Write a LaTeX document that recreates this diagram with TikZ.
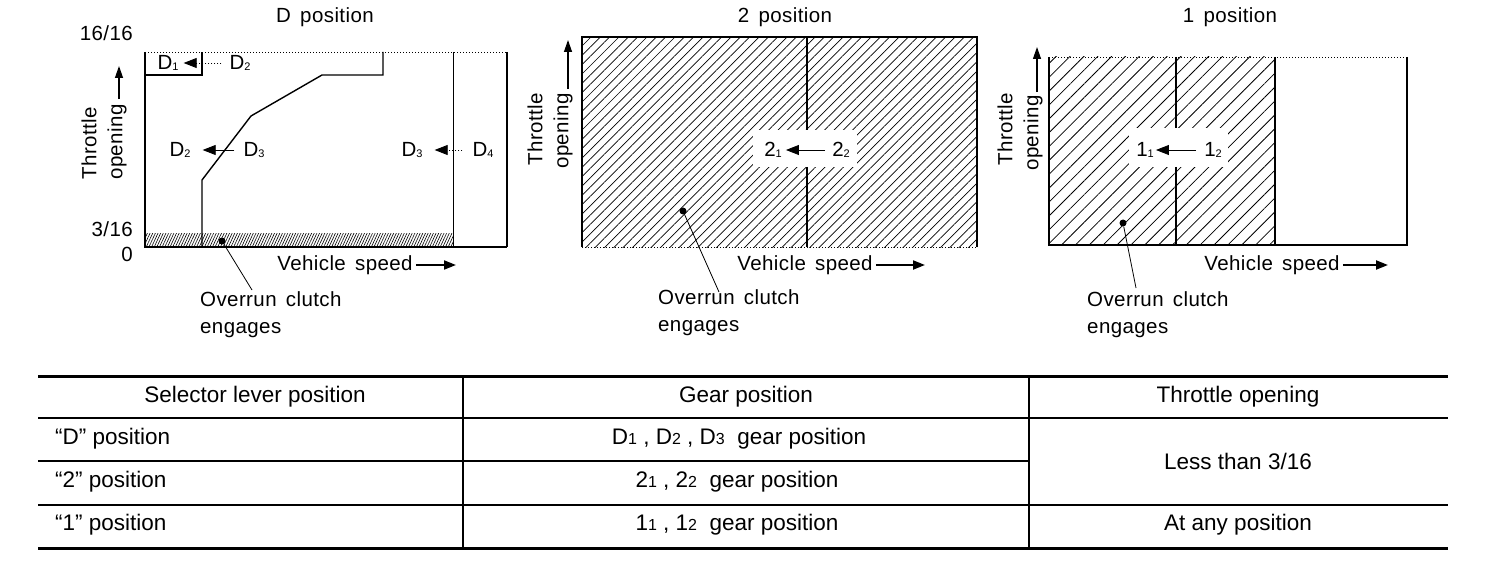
\documentclass[tikz,border=0pt]{standalone}
\usepackage{fontspec}
\setmainfont{Liberation Sans}
\newfontfamily\chartfont{Liberation Sans}[LetterSpace=2]
\usetikzlibrary{arrows.meta,patterns.meta,positioning}
\newcommand{\gsub}[1]{\raisebox{-1.5pt}{\fontsize{11}{11}\selectfont #1}}
\newcommand{\tsub}[1]{{\fontsize{16}{16}\selectfont #1}}
\newcommand{\gap}{\hspace{0.45em}}

\begin{document}
\begin{tikzpicture}[x=1pt,y=-1pt,
    lbl/.style={font=\chartfont\fontsize{20.5}{27}\selectfont},
    tbl/.style={font=\fontsize{22.5}{27}\selectfont},
    hatchwide/.style={pattern={Lines[angle=45,distance=6.6pt,line width=0.7pt]}},
    hatchone/.style={pattern={Lines[angle=45,distance=9.8pt,line width=0.8pt]}},
    hatchstrip/.style={pattern={Lines[angle=65,distance=2.4pt,line width=0.6pt]}},
    shiftarr/.style={line width=0.8pt,-{Triangle[length=13pt,width=10pt]}},
    dotline/.style={dash pattern=on 1pt off 2pt},
    spdarr/.style={line width=2pt,-{Triangle[length=12pt,width=9pt]}},
    thrarr/.style={line width=1.3pt,-{Triangle[length=12pt,width=8pt]}},
    leader/.style={line width=0.8pt},
    dotmark/.style={circle,fill,minimum size=7pt,inner sep=0pt}]
    \tikzstyle{every node}+=[inner sep=0pt]
    \useasboundingbox (0,0) rectangle (1504,572);

    % D position
    \node[lbl] (dtitle) at (325,17) {D\gap position};
    \node[lbl,anchor=east] (dfull) at (133,33) {16/16};
    \node[lbl,anchor=east] (dlow) at (133,229) {3/16};
    \node[lbl,anchor=east] (dzero) at (133,254) {0};
    \node[lbl,rotate=90] (dthr) at (89,143) {Throttle};
    \node[lbl,rotate=90] (dopen) at (117,142) {opening};
    \coordinate (dthtip) at (119,66);
    \draw[thrarr,shorten <=5pt] (dthtip |- dopen.east) -- (dthtip);
    \fill[hatchstrip] (145,233) rectangle (453,247);
    \draw[dotline,line width=0.8pt] (145,52) -- (507,52);
    \draw[line width=1.6pt] (145,52) -- (145,247) -- (507,247);
    \draw[line width=2.4pt] (507,52) -- (507,247);
    \draw[line width=1pt] (453,52) -- (453,247);
    \draw[line width=1.2pt] (145,75) -- (202,75) -- (202,52);
    \draw[line width=1.4pt] (383,52) -- (383,75) -- (322,75) -- (251,116)
        -- (202,180) -- (202,247);
    \node[lbl] (dlone) at (168,63) {D\gsub{1}};
    \node[lbl] (dltwo) at (240,63) {D\gsub{2}};
    \draw[shiftarr,dotline,shorten >=5pt,shorten <=8pt] (dltwo) -- (dlone);
    \node[lbl] (dmtwo) at (180,150) {D\gsub{2}};
    \node[lbl] (dmthree) at (254,150) {D\gsub{3}};
    \draw[shiftarr,shorten >=12pt,shorten <=9pt] (dmthree) -- (dmtwo);
    \node[lbl] (drthree) at (412,150) {D\gsub{3}};
    \node[lbl] (drfour) at (483,150) {D\gsub{4}};
    \draw[shiftarr,dotline,shorten >=12pt,shorten <=10pt] (drfour) -- (drthree);
    \node[dotmark] (ddot) at (222,241) {};
    \coordinate (dlead) at (252,290);
    \draw[leader] (ddot) -- (dlead);
    \node[lbl,anchor=north west,align=left] (dover) at (200,291)
        {Overrun\gap clutch\\engages};
    \node[lbl] (dspeed) at (345,265) {Vehicle\gap speed};
    \coordinate (dspdtip) at (456,265);
    \draw[spdarr] ([xshift=3pt]dspeed.east) -- (dspdtip);

    % 2 position
    \node[lbl] (ttitle) at (785,17) {2\gap position};
    \node[lbl,rotate=90] (tthr) at (535,129) {Throttle};
    \node[lbl,rotate=90] (topen) at (563,131) {opening};
    \coordinate (tthtip) at (568,40);
    \draw[thrarr,shorten <=4pt] (tthtip |- topen.east) -- (tthtip);
    \fill[hatchwide] (582,37) rectangle (977,247);
    \fill[white] (753,130) rectangle (857,167);
    \draw[dotline,line width=0.8pt] (582,247) -- (977,247);
    \draw[line width=1.6pt] (582,247) -- (582,37);
    \draw[line width=2.6pt] (581,37) -- (978,37);
    \draw[line width=1.6pt] (977,37) -- (977,247);
    \draw[line width=1.6pt] (807,37) -- (807,130) (807,167) -- (807,247);
    \node[lbl] (ttone) at (773,150) {2\gsub{1}};
    \node[lbl] (tttwo) at (841,150) {2\gsub{2}};
    \draw[shiftarr,shorten >=4pt,shorten <=7pt] (tttwo) -- (ttone);
    \node[dotmark] (tdot) at (683,211) {};
    \coordinate (tlead) at (719,292);
    \draw[leader] (tdot) -- (tlead);
    \node[lbl,anchor=north west,align=left] (tover) at (658,289)
        {Overrun\gap clutch\\engages};
    \node[lbl] (tspeed) at (805,265) {Vehicle\gap speed};
    \coordinate (tspdtip) at (925,265);
    \draw[spdarr] ([xshift=3pt]tspeed.east) -- (tspdtip);

    % 1 position
    \node[lbl] (otitle) at (1230,17) {1\gap position};
    \node[lbl,rotate=90] (othr) at (1005,129) {Throttle};
    \node[lbl,rotate=90] (oopen) at (1033,133) {opening};
    \coordinate (othtip) at (1037,47);
    \draw[thrarr,shorten <=3pt] (othtip |- oopen.east) -- (othtip);
    \fill[hatchone] (1049,57) rectangle (1275,245);
    \fill[white] (1129,128) rectangle (1228,167);
    \draw[dotline,line width=0.8pt] (1049,57) -- (1407,57);
    \draw[line width=1.6pt] (1049,245) -- (1407,245);
    \draw[line width=2.4pt] (1049,57) -- (1049,246);
    \draw[line width=2.4pt] (1407,57) -- (1407,246);
    \draw[line width=1.8pt] (1275,57) -- (1275,245);
    \draw[line width=1.8pt] (1176,57) -- (1176,128) (1176,167) -- (1176,245);
    \node[lbl] (ooone) at (1145,150) {1\gsub{1}};
    \node[lbl] (ootwo) at (1213,150) {1\gsub{2}};
    \draw[shiftarr,shorten >=2pt,shorten <=8pt] (ootwo) -- (ooone);
    \node[dotmark] (odot) at (1123,223) {};
    \coordinate (olead) at (1136,288);
    \draw[leader] (odot) -- (olead);
    \node[lbl,anchor=north west,align=left] (oover) at (1087,291)
        {Overrun\gap clutch\\engages};
    \node[lbl] (ospeed) at (1272,265) {Vehicle\gap speed};
    \coordinate (ospdtip) at (1388,265);
    \draw[spdarr] ([xshift=3pt]ospeed.east) -- (ospdtip);

    % table
    \draw[line width=3pt] (38,376) -- (1448,376);
    \draw[line width=3pt] (38,548) -- (1448,548);
    \draw[line width=1.8pt] (38,418) -- (1448,418);
    \draw[line width=1.8pt] (38,461) -- (1029,461);
    \draw[line width=1.8pt] (38,505) -- (1448,505);
    \draw[line width=1.8pt] (463,376) -- (463,548);
    \draw[line width=1.8pt] (1029,376) -- (1029,548);
    \node[tbl] (hsel) at (255,397) {Selector lever position};
    \node[tbl] (hgear) at (746,397) {Gear position};
    \node[tbl] (hthr) at (1238,397) {Throttle opening};
    \node[tbl,anchor=west] (rd) at (55,439) {“D” position};
    \node[tbl,anchor=west] (rtwo) at (55,482) {“2” position};
    \node[tbl,anchor=west] (rone) at (55,525) {“1” position};
    \node[tbl] (gd) at (739,439) {D\tsub{1} , D\tsub{2} , D\tsub{3}\ \ gear position};
    \node[tbl] (gtwo) at (737,482) {2\tsub{1} , 2\tsub{2}\ \ gear position};
    \node[tbl] (gone) at (737,525) {1\tsub{1} , 1\tsub{2}\ \ gear position};
    \node[tbl] (tless) at (1238,461) {Less than 3/16};
    \node[tbl] (tany) at (1238,525) {At any position};
\end{tikzpicture}
\end{document}
